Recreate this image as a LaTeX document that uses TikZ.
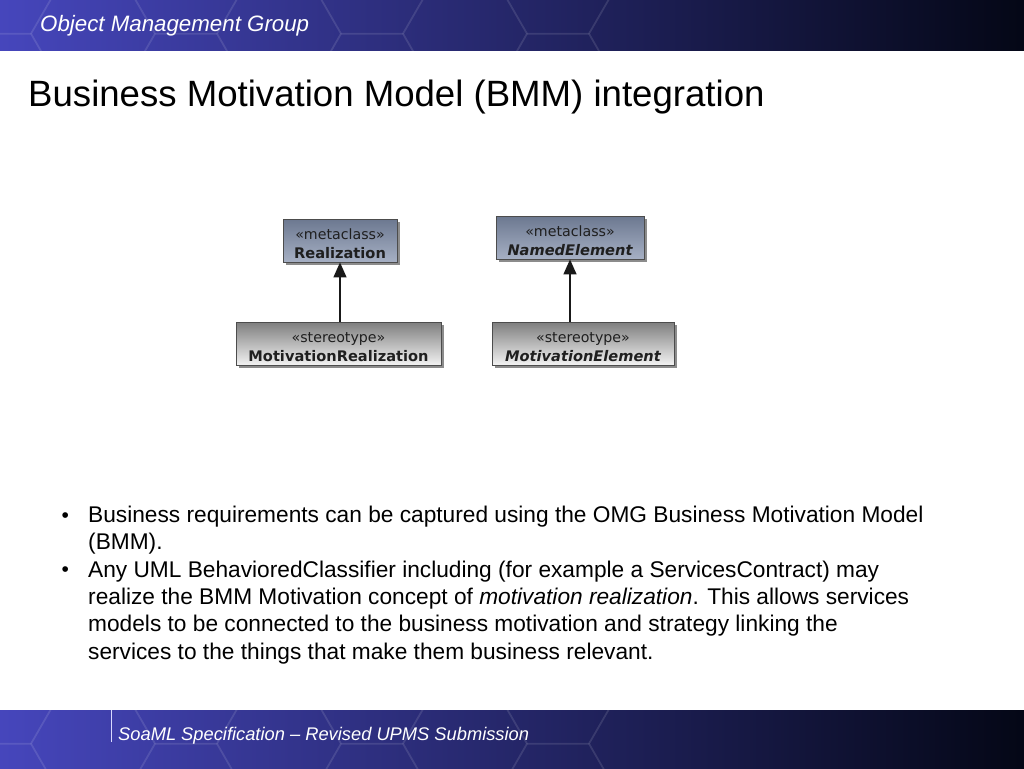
\documentclass[tikz,border=0pt]{standalone}
\usepackage{fontspec}
\setmainfont{Liberation Sans}
\newfontfamily\umlfont{DejaVu Sans}
\usetikzlibrary{arrows.meta,shadows,calc}
\definecolor{bandL}{HTML}{4646BC}
\definecolor{bandM}{HTML}{20266F}
\definecolor{bandR}{HTML}{040716}
\definecolor{metaTop}{HTML}{6C7890}
\definecolor{metaBot}{HTML}{A6B0C4}
\definecolor{stTop}{HTML}{7E7E7E}
\definecolor{stBot}{HTML}{F2F2F2}
\newcommand{\bodyfont}{\fontsize{22.7}{27.3}\selectfont}
\newcommand{\topstrut}{\rule{0pt}{17pt}}
\newcommand{\honeycomb}[2]{%
  \begin{scope}
    \clip (0,#1) rectangle (680,#2);
    \foreach \i in {-1,...,7}{
      \foreach \j in {-1,0,1}{
        \pgfmathsetmacro\cx{\i*93}
        \pgfmathsetmacro\cy{#1+\j*107.4+mod(\i+2,2)*53.7-20}
        \draw[white,opacity=0.06,line width=1.8]
          (\cx,\cy) +(0:62) -- +(60:62) -- +(120:62) -- +(180:62)
          -- +(240:62) -- +(300:62) -- cycle;
      }
    }
  \end{scope}}
\begin{document}
\begin{tikzpicture}[x=1pt,y=-1pt,
  umlbox/.style={draw=black!70, line width=0.8pt, minimum height=43pt,
    inner sep=0pt, align=center, font=\umlfont\fontsize{14.2}{18.5}\selectfont,
    text=black!88,
    drop shadow={shadow xshift=3pt, shadow yshift=-3pt, opacity=0.45, fill=black}},
  metabox/.style={umlbox, top color=metaTop, bottom color=metaBot},
  stbox/.style={umlbox, top color=stTop, bottom color=stBot},
  gen/.style={draw=black!90, line width=1.3pt, -{Triangle[width=13pt,length=15pt]}},
  plain/.style={anchor=base west, inner sep=0pt}
]
\useasboundingbox (0,0) rectangle (1024,768);
\fill[white] (0,0) rectangle (1024,768);
% header band
\shade[left color=bandL, middle color=bandM, right color=bandR] (0,0) rectangle (1024,51);
\honeycomb{0}{51}
% footer band
\shade[left color=bandL, middle color=bandM, right color=bandR] (0,710) rectangle (1024,768);
\honeycomb{710}{768}
\draw[white!85!blue, line width=1pt] (111,710) -- (111,742);

\node[plain, text=white, font=\fontsize{22.3}{26}\selectfont\itshape] (hdr) at (40,32) {Object Management Group};
\node[plain, text=white, font=\fontsize{18.3}{22}\selectfont\itshape] (ftr) at (118,740) {SoaML Specification – Revised UPMS Submission};

\node[plain, font=\fontsize{36.6}{44}\selectfont] (title) at (28,106) {Business Motivation Model (BMM) integration};

% diagram
\node[metabox, minimum width=114pt] (real) at (340,240.5)
  {\topstrut«metaclass»\\{\fontsize{14.6}{18.5}\selectfont\bfseries Realization}};
\node[metabox, minimum width=148pt] (named) at (570,237.5)
  {\topstrut«metaclass»\\{\fontsize{14.6}{18.5}\selectfont\bfseries\itshape NamedElement}};
\node[stbox, minimum width=205pt] (mreal) at (338.5,343.5)
  {\topstrut«stereotype»\\{\fontsize{14.6}{18.5}\selectfont\bfseries MotivationRealization}};
\node[stbox, minimum width=182pt] (melem) at (583,343.5)
  {\topstrut«stereotype»\\{\fontsize{14.6}{18.5}\selectfont\bfseries\itshape MotivationElement}};

\draw[gen] (mreal.north -| real.south) -- (real.south);
\draw[gen] (melem.north -| named.south) -- (named.south);

% bullets
\node[plain, font=\fontsize{21}{24}\selectfont] (d1) at (61.5,522) {•};
\node[plain, font=\bodyfont] (b1) at (88,522.5) {\parbox[t]{920pt}{Business requirements can be captured using the OMG Business Motivation Model\\(BMM).}};
\node[plain, font=\fontsize{21}{24}\selectfont] (d2) at (61.5,576.6) {•};
\node[plain, font=\bodyfont] (b2) at (88,577.1) {\parbox[t]{920pt}{Any UML BehavioredClassifier including (for example a ServicesContract) may\\realize the BMM Motivation concept of \textit{motivation realization}. This allows services\\models to be connected to the business motivation and strategy linking the\\services to the things that make them business relevant.}};
\end{tikzpicture}
\end{document}
